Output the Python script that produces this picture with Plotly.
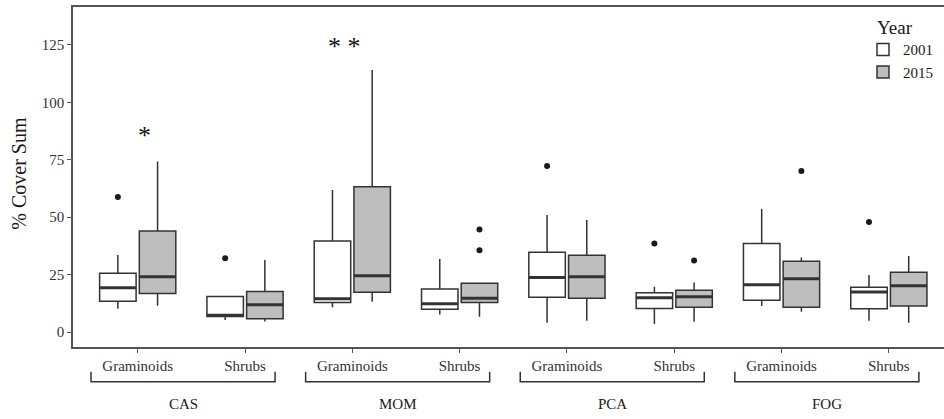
import plotly.graph_objects as go

# ---------------- data ----------------
sites = ["CAS", "MOM", "PCA", "FOG"]
types = ["Graminoids", "Shrubs"]
years = ["2001", "2015"]

# order: CAS-G, CAS-S, MOM-G, MOM-S, PCA-G, PCA-S, FOG-G, FOG-S
low_2001 = [10.2, 5.2, 10.8, 7.7, 4.1, 3.5, 11.3, 4.9]
q1_2001 = [13.4, 6.8, 12.9, 9.9, 15.2, 10.3, 13.8, 10.1]
med_2001 = [19.3, 7.3, 14.5, 12.3, 23.7, 14.9, 20.6, 17.4]
q3_2001 = [25.6, 15.5, 39.6, 18.7, 34.7, 17.1, 38.6, 19.5]
up_2001 = [33.5, 15.8, 61.8, 31.8, 51.0, 19.7, 53.6, 24.8]
out_idx_2001 = [0, 1, 4, 5, 7]
out_val_2001 = [58.8, 32.1, 72.3, 38.6, 47.9]

low_2015 = [11.5, 4.6, 13.2, 6.7, 4.9, 4.5, 8.8, 4.1]
q1_2015 = [16.8, 5.8, 17.3, 12.9, 14.7, 10.8, 10.8, 11.3]
med_2015 = [24.1, 11.9, 24.5, 14.7, 24.1, 15.4, 23.2, 20.2]
q3_2015 = [44.0, 17.7, 63.3, 21.2, 33.4, 18.2, 30.8, 26.0]
up_2015 = [74.2, 31.4, 114.1, 21.2, 48.8, 21.6, 32.5, 33.1]
out_idx_2015 = [3, 3, 5, 6]
out_val_2015 = [44.7, 35.6, 31.2, 70.1]

sig_idx = [0, 2]
sig_text = ["*", "* *"]
sig_y = [85.5, 124.5]

yticks = [0, 25, 50, 75, 100, 125]

# ---------------- styling ----------------
FONT = "Liberation Serif"
EDGE = "#333333"
FILLS = {"2001": "#ffffff", "2015": "#bebebe"}
OFFS = {"2001": -0.185, "2015": 0.185}
BW = 0.34

pos = list(range(1, len(sites) * len(types) + 1))
ticktext = [t for s in sites for t in types]

stats = {
    "2001": (low_2001, q1_2001, med_2001, q3_2001, up_2001, out_idx_2001, out_val_2001),
    "2015": (low_2015, q1_2015, med_2015, q3_2015, up_2015, out_idx_2015, out_val_2015),
}

fig = go.Figure()
for yr in years:
    lo, q1, md, q3, up, oi, ov = stats[yr]
    xs = [p + OFFS[yr] for p in pos]
    fig.add_trace(go.Box(
        x=xs, lowerfence=lo, q1=q1, median=md, q3=q3, upperfence=up,
        width=BW, name=yr, fillcolor=FILLS[yr],
        line=dict(color=EDGE, width=1.5), whiskerwidth=0,
        boxpoints=False, legendgroup=yr, hoverinfo="skip",
    ))
    # thick median line (ggplot style)
    mx, my = [], []
    for x, m in zip(xs, md):
        mx += [x - BW / 2, x + BW / 2, None]
        my += [m, m, None]
    fig.add_trace(go.Scatter(x=mx, y=my, mode="lines",
                             line=dict(color=EDGE, width=3),
                             showlegend=False, hoverinfo="skip"))
    # outliers
    fig.add_trace(go.Scatter(x=[pos[i] + OFFS[yr] for i in oi], y=ov,
                             mode="markers",
                             marker=dict(color="#1a1a1a", size=6),
                             showlegend=False, hoverinfo="skip"))

annotations = []
for i, t, yv in zip(sig_idx, sig_text, sig_y):
    annotations.append(dict(x=pos[i] + (0.06 if i == 0 else -0.07), y=yv,
                            xref="x", yref="y", text=t, showarrow=False,
                            font=dict(family=FONT, size=26, color="#111"),
                            yanchor="middle"))

shapes = []
yb1, yb2 = -0.0726, -0.102
for k, s in enumerate(sites):
    xg = pos[2 * k]
    xsh = pos[2 * k + 1]
    x0 = xg - 0.435
    x1 = xsh + 0.28
    shapes.append(dict(type="path", xref="x", yref="paper",
                       path=f"M {x0},{yb1} L {x0},{yb2} L {x1},{yb2} L {x1},{yb1}",
                       line=dict(color=EDGE, width=1.5)))
    annotations.append(dict(x=(x0 + x1) / 2, y=-0.168, xref="x", yref="paper",
                            text=s, showarrow=False, yanchor="middle",
                            font=dict(family=FONT, size=15, color="#1a1a1a")))

annotations.append(dict(x=-0.063, y=0.51, xref="paper", yref="paper",
                        text="% Cover Sum", textangle=-90, showarrow=False,
                        xanchor="center", yanchor="middle",
                        font=dict(family=FONT, size=20, color="#1a1a1a")))
# legend title placed to align with the legend keys
annotations.append(dict(x=0.921, y=0.94, xref="paper", yref="paper",
                        text="Year", showarrow=False,
                        xanchor="left", yanchor="middle",
                        font=dict(family=FONT, size=19, color="#1a1a1a")))

fig.update_layout(
    width=944, height=419,
    margin=dict(l=73, r=0, t=7, b=72, autoexpand=False),
    paper_bgcolor="white", plot_bgcolor="white",
    boxmode="overlay",
    font=dict(family=FONT, size=15, color="#1a1a1a"),
    shapes=shapes, annotations=annotations,
    legend=dict(x=0.907, y=0.923, xanchor="left", yanchor="top",
                font=dict(size=15), bgcolor="rgba(0,0,0,0)",
                tracegroupgap=0, itemwidth=30),
    xaxis=dict(range=[0.397, 8.514], tickvals=pos, ticktext=ticktext,
               showline=True, linecolor="#555", linewidth=1.5, mirror=True,
               ticks="outside", ticklen=4, tickcolor="#555",
               showgrid=False, zeroline=False,
               tickfont=dict(family=FONT, size=15, color="#333")),
    yaxis=dict(range=[-6.5, 141.5], tickvals=yticks,
               showline=True, linecolor="#555", linewidth=1.5,
               ticks="outside", ticklen=4, tickcolor="#555",
               showgrid=False, zeroline=False,
               tickfont=dict(family=FONT, size=15, color="#333")),
)

fig.write_html("out.html", config={"displayModeBar": False},
               post_script="document.body.style.margin='0';document.body.style.overflow='hidden';")
